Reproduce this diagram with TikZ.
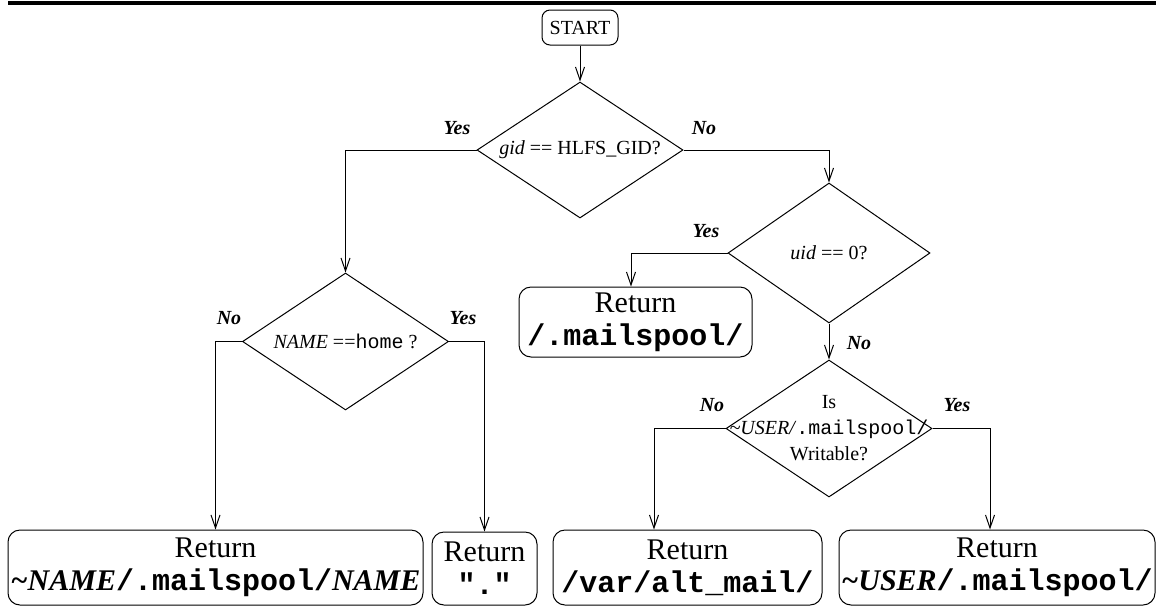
\documentclass[tikz,border=0pt]{standalone}
\usepackage{fontspec}
\setmainfont{Liberation Serif}
\setmonofont{Liberation Mono}
\usetikzlibrary{shapes.geometric,arrows.meta}

\tikzset{
  startbox/.style={draw, rounded corners=8, minimum width=76, minimum height=35,
    inner sep=0pt, font=\fontsize{20}{24}\selectfont},
  decision/.style={diamond, draw, inner sep=0pt},
  dtext/.style={align=center, inner sep=0pt, font=\fontsize{20}{26}\selectfont},
  retbox/.style={draw, rounded corners=12, inner sep=0pt, align=center,
    font=\fontsize{30}{33}\selectfont},
  answer/.style={font=\fontsize{20}{24}\selectfont\bfseries\itshape},
}

\begin{document}
\begin{tikzpicture}[x=1pt,y=1pt,line width=1pt,>={Straight Barb[length=13pt,width=9pt]}]
    % page frame: pixels of the original, y downwards
    \useasboundingbox (0,0) rectangle (1156,-606);

    % thick rule at the top
    \fill (8,-1) rectangle (1156,-5);

    % start and the four tests
    \node[startbox] (start) at (580,-27.5) {START};
    \node[decision, minimum width=206, minimum height=136,
      label={[dtext]center:\textit{gid} == HLFS\_GID?}] (gid) at (580,-150) {};
    \node[decision, minimum width=206, minimum height=137,
      label={[dtext]center:\textit{NAME} ==\texttt{home} ?}] (home) at (345.5,-341.5) {};
    \node[decision, minimum width=202, minimum height=140,
      label={[dtext]center:\textit{uid} == 0?}] (uid) at (829,-253) {};
    \node[decision, minimum width=206, minimum height=137,
      label={[dtext]center:Is\\\textit{\textasciitilde USER/}\texttt{.mailspool/}\\Writable?}] (writable) at (829,-428.5) {};

    % what gets returned
    \node[retbox, minimum width=233, minimum height=70] (root) at (635.5,-322)
      {Return\\\texttt{\bfseries /.mailspool/}};
    \node[retbox, minimum width=415, minimum height=75] (byname) at (215.5,-567.5)
      {Return\\\textbf{\textit{\textasciitilde NAME}\texttt{/.mailspool/}\textit{NAME}}};
    \node[retbox, minimum width=105, minimum height=73] (dot) at (484.5,-568.5)
      {Return\\\texttt{\bfseries "."}};
    \node[retbox, minimum width=269, minimum height=75] (altmail) at (687.5,-567.5)
      {Return\\\texttt{\bfseries /var/alt\_mail/}};
    \node[retbox, minimum width=316, minimum height=75] (byuser) at (997,-567.5)
      {Return\\\textbf{\textit{\textasciitilde USER}\texttt{/.mailspool/}}};

    % connectors
    \draw[->] (start) -- (gid);
    \draw[->] (gid.west) -| (home.north);
    \draw[->] (gid.east) -| (uid.north);
    \draw[->] (uid.west) -| ([xshift=-4.5pt]root.north);
    \draw[->] (uid) -- (writable);
    \draw[->] (home.west) -| (byname.north);
    \draw[->] (home.east) -| (dot.north);
    \draw[->] (writable.west) -| ([xshift=-33.5pt]altmail.north);
    \draw[->] (writable.east) -| ([xshift=-7pt]byuser.north);

    % branch answers
    \node[answer] (a1) at (457,-128) {Yes};
    \node[answer] (a2) at (704,-128) {No};
    \node[answer] (a3) at (706,-231) {Yes};
    \node[answer] (a4) at (859,-343) {No};
    \node[answer] (a5) at (229,-318) {No};
    \node[answer] (a6) at (463,-318) {Yes};
    \node[answer] (a7) at (712,-405) {No};
    \node[answer] (a8) at (957,-405) {Yes};
\end{tikzpicture}
\end{document}
